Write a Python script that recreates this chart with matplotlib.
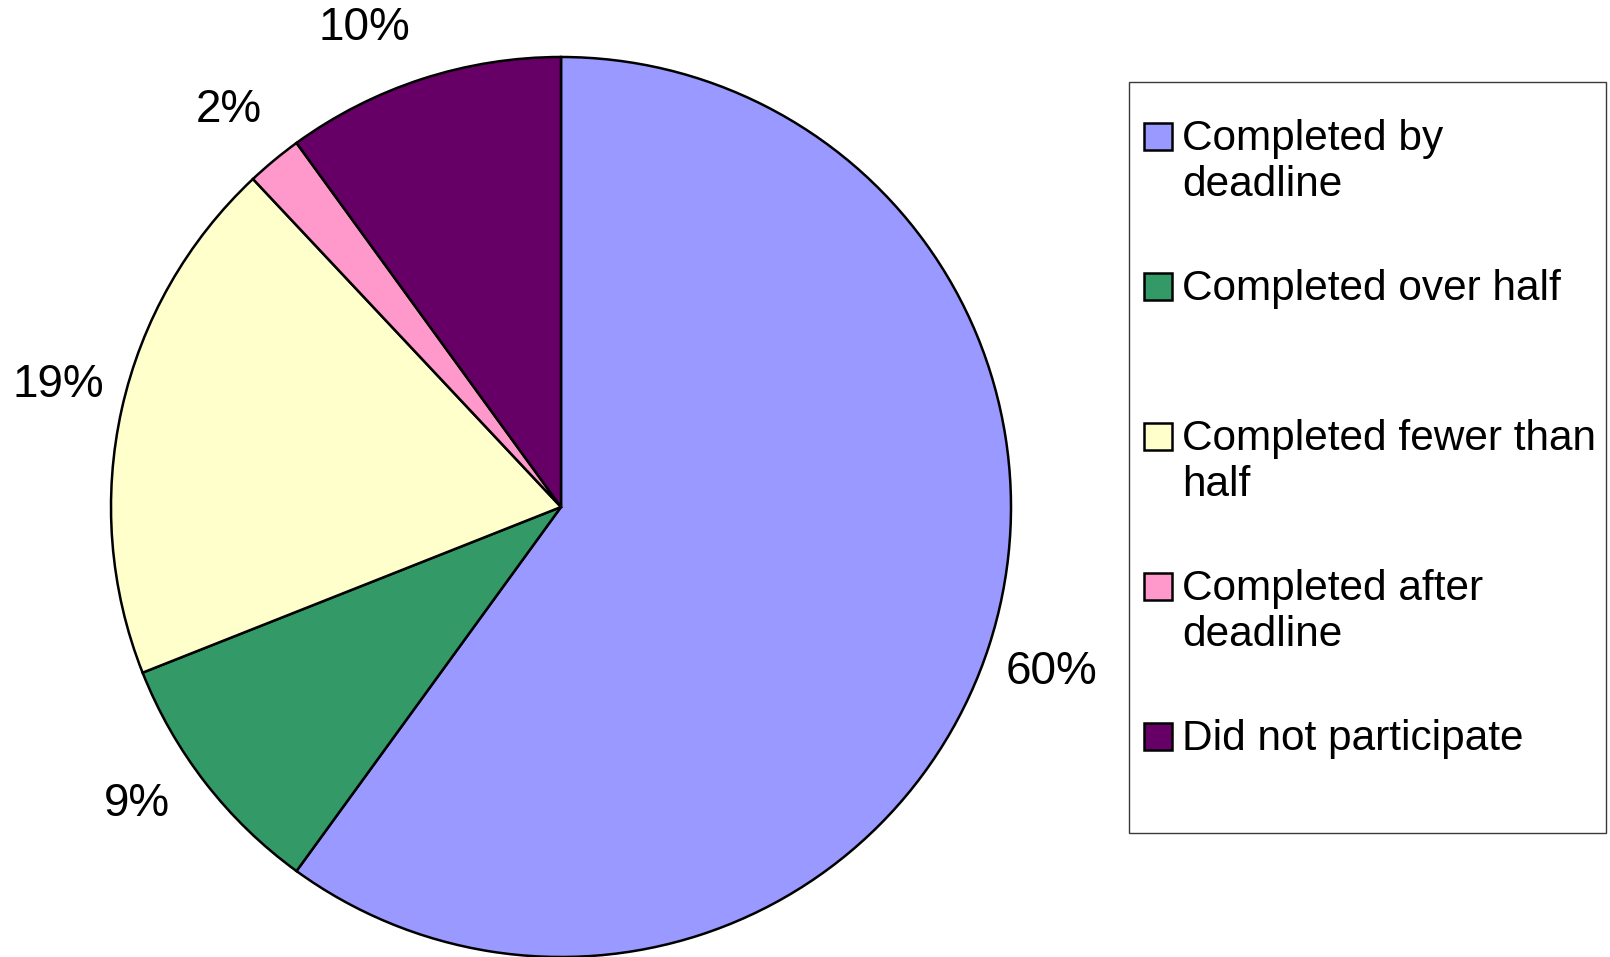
import numpy as np
import matplotlib
matplotlib.use("Agg")
import matplotlib.pyplot as plt
from matplotlib.patches import Rectangle

plt.rcParams["font.family"] = ["Liberation Sans", "DejaVu Sans"]

# Share of participants by completion status
categories = [
    "Completed by\ndeadline",
    "Completed over half",
    "Completed fewer than\nhalf",
    "Completed after\ndeadline",
    "Did not participate",
]
shares = [60, 9, 19, 2, 10]
colors = ["#9999FF", "#339966", "#FFFFCC", "#FF99CC", "#660066"]
pct_labels = [f"{v}%" for v in shares]

W, H, DPI = 1610, 957, 100
fig = plt.figure(figsize=(W / DPI, H / DPI), dpi=DPI, facecolor="white")

# pie sits in a square axes, radius 450 px, centre at (561, 507) from top-left
cx, cy, R = 561, 507, 450
ax = fig.add_axes([(cx - R) / W, (H - cy - R) / H, 2 * R / W, 2 * R / H])
wedges, texts = ax.pie(
    shares, colors=colors, labels=pct_labels, startangle=90, counterclock=False,
    labeldistance=1.15, radius=1.0,
    wedgeprops=dict(edgecolor="black", linewidth=1.8),
    textprops=dict(fontsize=33, color="black"),
)
# labels centred on the wedge bisector; small angular nudges keep them clear
nudge = [-0.6, -2.8, -1.0, 0.3, 4.3]
for w, t, dn in zip(wedges, texts, nudge):
    mid = np.deg2rad(0.5 * (w.theta1 + w.theta2) + dn)
    t.set_position((1.15 * np.cos(mid), 1.15 * np.sin(mid)))
    t.set_horizontalalignment("center")
    t.set_verticalalignment("center")
ax.set_xlim(-1, 1)
ax.set_ylim(-1, 1)
ax.set_aspect("equal")
ax.axis("off")

# legend drawn in pixel coordinates on an overlay axes
lg = fig.add_axes([0, 0, 1, 1], facecolor="none")
lg.set_xlim(0, W)
lg.set_ylim(H, 0)
lg.axis("off")
lg.add_patch(Rectangle((1129, 82), 477, 751, facecolor="white",
                       edgecolor="#3a3a3a", linewidth=1.0))
base0, step, line_h = 150, 150, 46
for i, (lab, col) in enumerate(zip(categories, colors)):
    b = base0 + i * step
    lg.add_patch(Rectangle((1144, b - 27), 28, 27, facecolor=col,
                           edgecolor="black", linewidth=1.8))
    for k, line in enumerate(lab.split("\n")):
        lg.text(1182, b + k * line_h, line, fontsize=30.5, color="black",
                ha="left", va="baseline")

fig.savefig("out.png", dpi=DPI, facecolor="white")
